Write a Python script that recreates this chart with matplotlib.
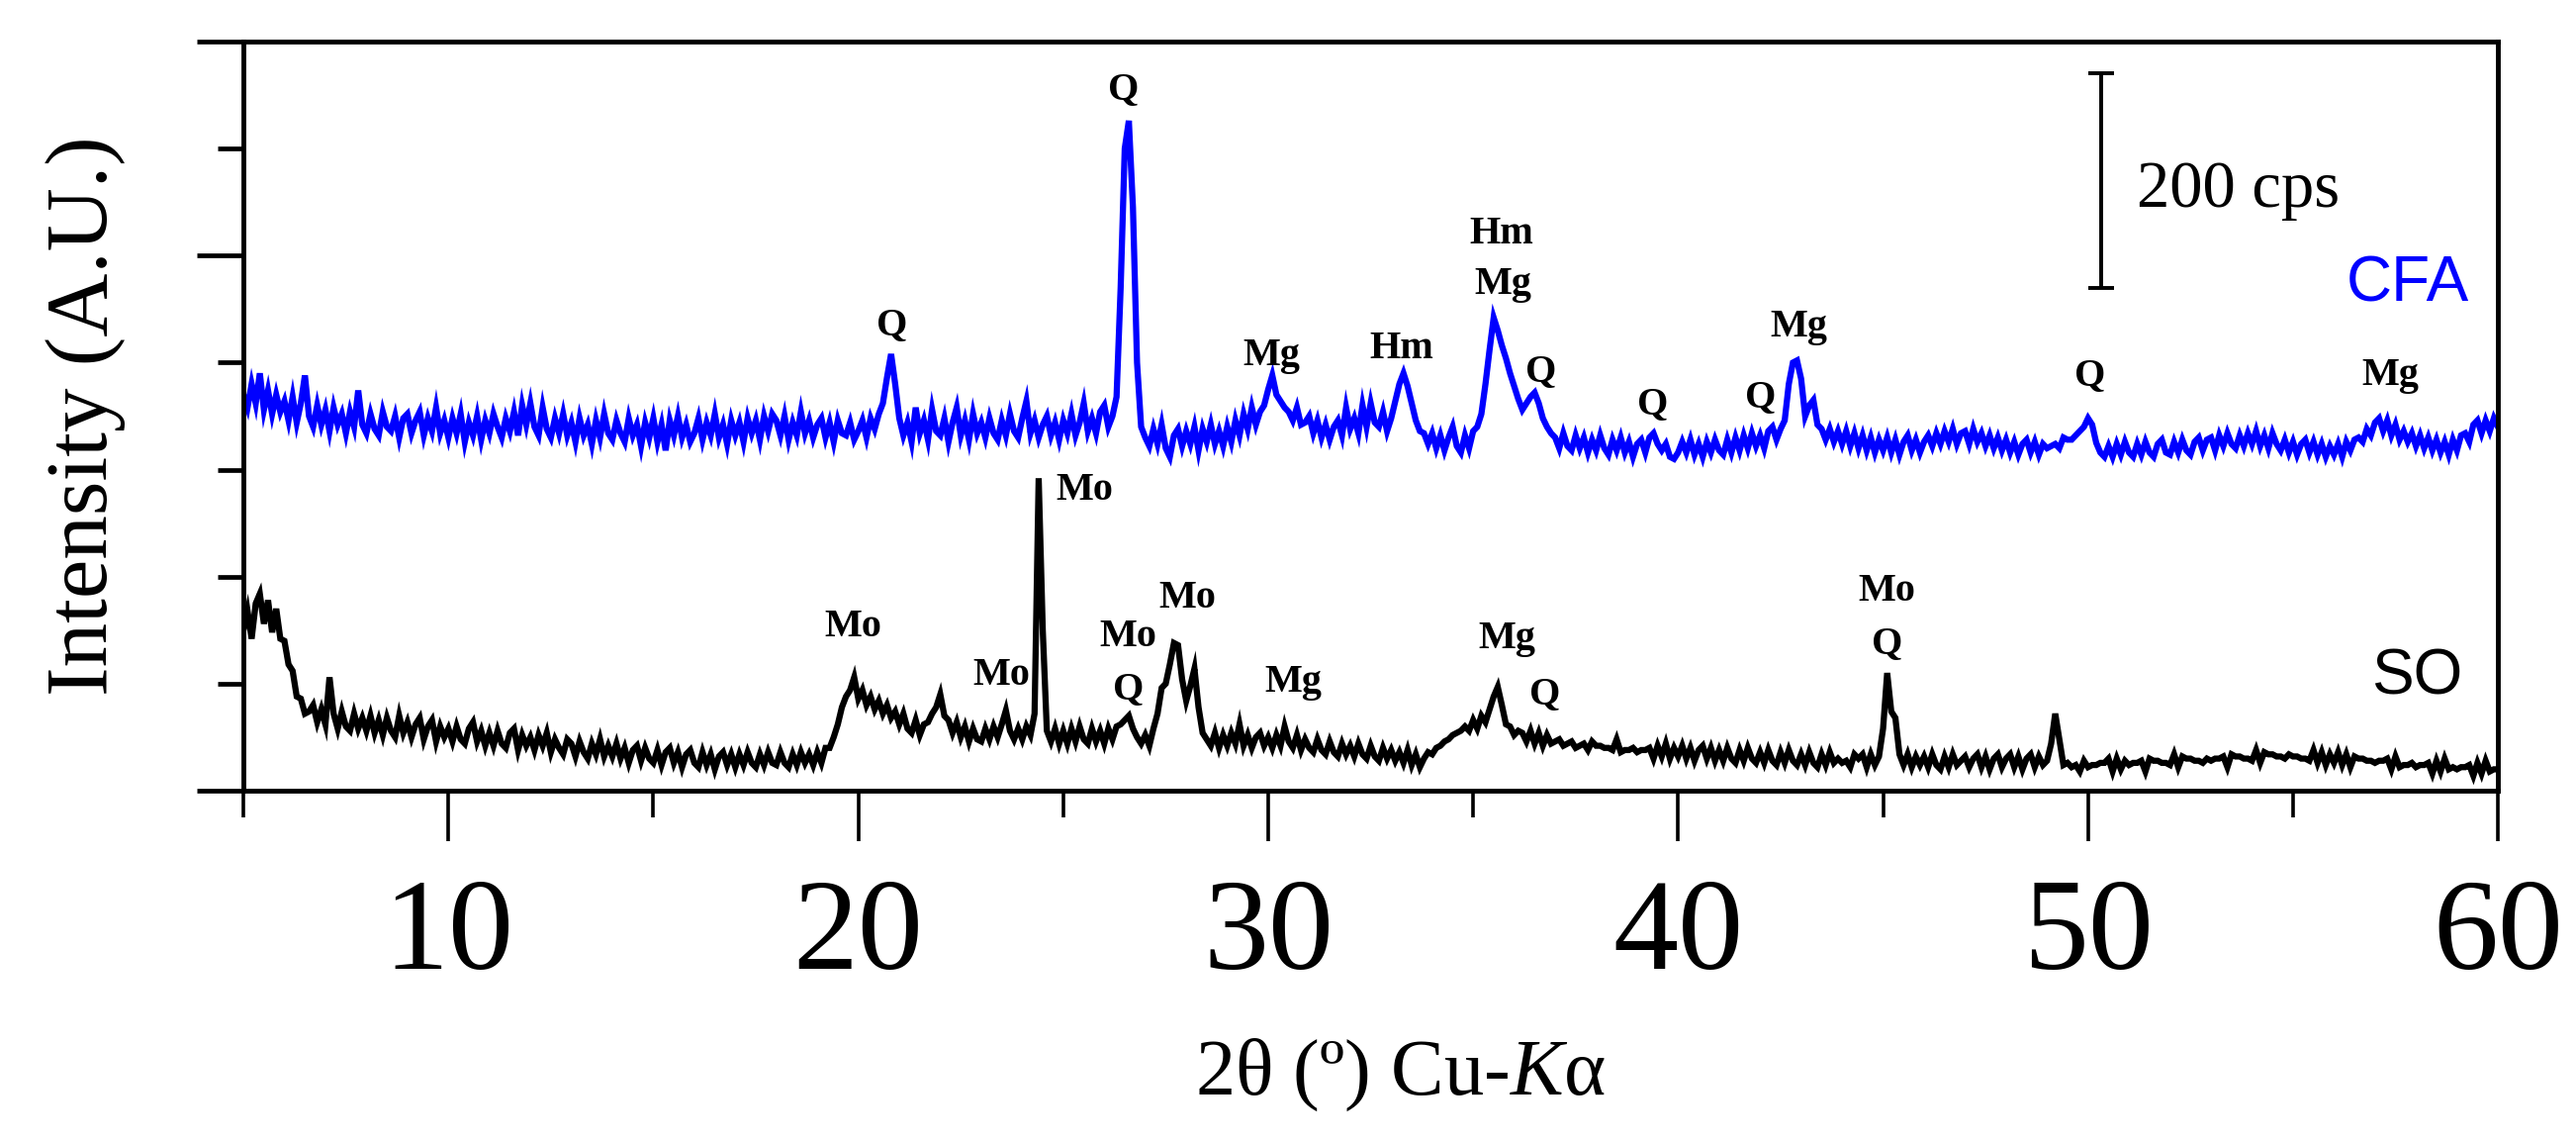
import numpy as np
import matplotlib
matplotlib.use("Agg")
import matplotlib.pyplot as plt
from matplotlib.ticker import FixedLocator, NullFormatter

plt.rcParams['font.family'] = ['Liberation Serif', 'DejaVu Serif']
plt.rcParams['mathtext.fontset'] = 'custom'
plt.rcParams['mathtext.rm'] = 'Liberation Serif'
plt.rcParams['mathtext.it'] = 'Liberation Serif:italic'

# 2theta grid, 5.0 .. 60.0 deg, step 0.1
two_theta = np.round(np.arange(5.0, 60.05, 0.1), 1)

# CFA pattern (offset, cps), one row per degree
cfa = [
    370, 358, 380, 362, 390, 356, 374, 352, 370, 354,   # 5
    364, 346, 368, 344, 362, 388, 350, 340, 360, 342,   # 6
    356, 336, 358, 342, 352, 334, 354, 340, 374, 342,   # 7
    334, 352, 338, 332, 354, 340, 336, 350, 330, 348,   # 8
    352, 334, 346, 354, 332, 348, 336, 358, 334, 346,   # 9
    330, 348, 334, 352, 326, 344, 332, 350, 328, 346,   # 10
    334, 352, 340, 330, 348, 336, 354, 332, 360, 342,   # 11
    362, 340, 332, 358, 338, 330, 348, 334, 352, 332,   # 12
    344, 326, 348, 332, 342, 324, 346, 330, 352, 334,   # 13
    328, 346, 334, 326, 348, 332, 342, 322, 344, 330,   # 14
    348, 326, 342, 318, 346, 332, 350, 330, 342, 326,   # 15
    334, 348, 328, 344, 332, 352, 330, 342, 324, 346,   # 16
    332, 344, 326, 348, 334, 346, 328, 350, 336, 352,   # 17
    346, 332, 350, 328, 344, 332, 354, 334, 346, 330,   # 18
    342, 348, 330, 344, 326, 346, 334, 332, 344, 328,   # 19
    336, 346, 330, 348, 338, 352, 362, 386, 408, 380,   # 20
    348, 332, 344, 326, 358, 334, 346, 328, 356, 336,   # 21
    332, 348, 326, 344, 358, 332, 346, 328, 352, 334,   # 22
    344, 330, 348, 334, 328, 346, 332, 352, 336, 330,   # 23
    348, 364, 334, 346, 330, 342, 350, 332, 344, 328,   # 24
    346, 334, 352, 332, 344, 362, 336, 348, 334, 354,   # 25
    360, 340, 350, 368, 470, 600, 626, 545, 400, 340,   # 26
    330, 322, 338, 324, 342, 320, 312, 332, 338, 322,   # 27
    336, 324, 340, 318, 338, 326, 342, 324, 336, 322,   # 28
    340, 326, 346, 332, 352, 338, 358, 342, 354, 360,   # 29
    375, 388, 370, 364, 358, 354, 346, 358, 342, 344,   # 30
    350, 334, 346, 330, 342, 328, 340, 346, 332, 358,   # 31
    338, 348, 334, 360, 340, 362, 344, 340, 354, 336,   # 32
    348, 364, 380, 390, 378, 362, 346, 336, 334, 324,   # 33
    334, 320, 332, 318, 330, 340, 322, 316, 332, 320,   # 34
    336, 340, 352, 380, 412, 442, 430, 416, 404, 390,   # 35
    378, 366, 356, 362, 368, 372, 362, 348, 340, 334,   # 36
    330, 320, 334, 322, 318, 332, 320, 330, 316, 328,   # 37
    318, 332, 320, 314, 328, 318, 330, 316, 326, 312,   # 38
    324, 328, 316, 330, 334, 324, 318, 324, 312, 310,   # 39
    316, 326, 316, 328, 314, 324, 312, 326, 316, 328,   # 40
    318, 314, 328, 316, 330, 318, 332, 320, 334, 322,   # 41
    332, 320, 336, 340, 328, 338, 346, 380, 400, 402,   # 42
    385, 350, 360, 365, 342, 338, 328, 338, 326, 336,   # 43
    324, 336, 322, 334, 320, 332, 318, 330, 316, 328,   # 44
    318, 330, 316, 328, 314, 326, 332, 318, 328, 316,   # 45
    326, 332, 322, 334, 324, 336, 326, 338, 324, 334,   # 46
    336, 324, 338, 326, 334, 322, 332, 320, 330, 318,   # 47
    328, 316, 326, 314, 324, 328, 316, 326, 314, 324,   # 48
    320, 322, 324, 320, 330, 328, 328, 332, 336, 340,   # 49
    348, 342, 325, 316, 312, 322, 312, 324, 314, 326,   # 50
    316, 312, 324, 314, 326, 316, 312, 324, 328, 316,   # 51
    314, 326, 316, 328, 318, 314, 326, 330, 318, 328,   # 52
    330, 318, 332, 322, 334, 324, 320, 332, 322, 334,   # 53
    324, 336, 322, 332, 320, 334, 324, 318, 328, 316,   # 54
    326, 314, 324, 328, 316, 326, 314, 324, 312, 322,   # 55
    314, 324, 312, 326, 318, 328, 330, 326, 338, 332,   # 56
    344, 348, 336, 346, 332, 342, 328, 336, 326, 334,   # 57
    322, 332, 320, 330, 318, 328, 316, 326, 314, 328,   # 58
    318, 332, 334, 326, 342, 346, 334, 346, 336, 348,   # 59
    340,                                                # 60
]

# SO pattern (cps)
so = [
    150, 168, 142, 175, 184, 156, 178, 148, 170, 142,   # 5
    140, 118, 112, 88, 86, 72, 74, 80, 64, 76,          # 6
    62, 106, 72, 58, 74, 60, 56, 72, 58, 68,            # 7
    56, 70, 54, 66, 52, 68, 56, 50, 70, 54,             # 8
    64, 50, 62, 68, 48, 60, 66, 46, 60, 50,             # 9
    58, 46, 60, 48, 44, 58, 64, 46, 56, 42,             # 10
    54, 42, 56, 44, 40, 54, 58, 38, 52, 42,             # 11
    50, 38, 52, 42, 54, 36, 48, 40, 34, 48,             # 12
    44, 32, 46, 36, 30, 44, 34, 48, 32, 42,             # 13
    32, 44, 30, 40, 26, 38, 42, 28, 40, 30,             # 14
    26, 38, 24, 36, 40, 26, 36, 22, 34, 38,             # 15
    26, 22, 36, 24, 34, 20, 32, 36, 24, 34,             # 16
    22, 34, 24, 36, 26, 22, 34, 24, 36, 26,             # 17
    24, 36, 26, 22, 34, 24, 36, 26, 34, 24,             # 18
    36, 26, 40, 40, 50, 62, 78, 88, 94, 106,            # 19
    86, 94, 80, 88, 76, 84, 72, 80, 68, 74,             # 20
    62, 72, 58, 54, 66, 52, 62, 64, 72, 78,             # 21
    90, 70, 66, 54, 64, 50, 60, 46, 58, 48,             # 22
    46, 58, 48, 60, 50, 62, 75, 56, 48, 58,             # 23
    48, 60, 52, 72, 292, 150, 56, 46, 58, 44,           # 24
    56, 44, 58, 46, 60, 48, 44, 58, 46, 56,             # 25
    44, 58, 48, 60, 62, 66, 70, 58, 50, 44,             # 26
    52, 42, 58, 72, 96, 100, 118, 138, 136, 104,        # 27
    84, 98, 114, 78, 54, 48, 42, 54, 40, 52,            # 28
    42, 54, 44, 62, 42, 52, 40, 50, 54, 42,             # 29
    50, 40, 52, 42, 60, 46, 40, 52, 38, 48,             # 30
    40, 36, 48, 38, 34, 46, 36, 32, 44, 34,             # 31
    42, 32, 44, 34, 30, 42, 32, 28, 40, 30,             # 32
    38, 28, 36, 26, 38, 24, 34, 22, 30, 36,             # 33
    34, 40, 42, 46, 48, 52, 54, 56, 60, 56,             # 34
    66, 58, 70, 64, 76, 88, 97, 80, 62, 60,             # 35
    52, 56, 54, 46, 56, 44, 54, 42, 52, 44,             # 36
    46, 48, 42, 44, 46, 40, 42, 44, 38, 46,             # 37
    42, 42, 40, 40, 38, 48, 36, 38, 38, 40,             # 38
    36, 38, 38, 40, 30, 42, 32, 44, 30, 40,             # 39
    32, 42, 30, 40, 28, 38, 42, 30, 40, 28,             # 40
    38, 28, 40, 30, 26, 38, 28, 40, 30, 26,             # 41
    36, 26, 38, 28, 24, 36, 26, 38, 28, 24,             # 42
    34, 24, 36, 26, 22, 34, 24, 36, 26, 30,             # 43
    26, 28, 22, 34, 30, 34, 22, 34, 24, 32,             # 44
    58, 110, 74, 68, 34, 24, 34, 22, 32, 24,            # 45
    32, 22, 34, 24, 20, 32, 22, 34, 24, 28,             # 46
    32, 22, 30, 34, 22, 32, 20, 30, 34, 22,             # 47
    30, 34, 22, 32, 20, 30, 34, 22, 32, 24,             # 48
    28, 44, 72, 48, 24, 26, 22, 24, 18, 28,             # 49
    22, 24, 24, 26, 26, 30, 18, 30, 20, 28,             # 50
    24, 26, 26, 28, 18, 30, 28, 28, 26, 26,             # 51
    24, 34, 22, 32, 30, 30, 28, 28, 26, 30,             # 52
    28, 30, 30, 32, 22, 34, 32, 32, 30, 30,             # 53
    28, 38, 26, 36, 34, 34, 32, 32, 30, 34,             # 54
    32, 32, 30, 30, 28, 38, 26, 36, 24, 34,             # 55
    26, 36, 24, 34, 22, 32, 30, 30, 28, 28,             # 56
    26, 28, 28, 30, 20, 32, 22, 24, 24, 26,             # 57
    22, 24, 24, 26, 16, 28, 18, 30, 20, 22,             # 58
    20, 22, 22, 24, 14, 26, 16, 28, 18, 20,             # 59
    20,                                                 # 60
]

# phase labels: (text, 2theta, intensity)
cfa_labels = ["Q", "Q", "Mg", "Hm", "Hm", "Mg", "Q", "Q", "Q", "Mg", "Q", "Mg"]
cfa_label_x = [20.82, 26.47, 30.07, 33.26, 35.69, 35.73, 36.65, 39.39, 42.0, 42.94, 50.05, 57.38]
cfa_label_y = [435, 655, 406, 413, 520, 473, 392, 361, 368, 433, 388, 388]

so_labels = ["Mo", "Mo", "Mo", "Mo", "Q", "Mo", "Mg", "Mg", "Q", "Mo", "Q"]
so_label_x = [19.87, 23.5, 25.53, 26.59, 26.59, 28.03, 30.6, 35.83, 36.76, 45.1, 45.1]
so_label_y = [153, 108, 281, 144, 95, 180, 101, 142, 90, 186, 137]

# scale bar
bar_x = 50.31
bar_mid = 570
bar_half = 100

fig = plt.figure(figsize=(26.04, 11.53), dpi=100)
ax = fig.add_axes([0.0945, 0.307, 0.8752, 0.6566])

ax.plot(two_theta, cfa, color='#0000ff', lw=4.5, solid_joinstyle='miter')
ax.plot(two_theta, so, color='black', lw=4.5, solid_joinstyle='miter')

for t, x, y in zip(cfa_labels, cfa_label_x, cfa_label_y):
    ax.text(x, y, t, ha='center', va='center', fontsize=29, fontweight='bold')
for t, x, y in zip(so_labels, so_label_x, so_label_y):
    ax.text(x, y, t, ha='center', va='center', fontsize=29, fontweight='bold')

ax.errorbar([bar_x], [bar_mid], yerr=[bar_half], fmt='none', ecolor='black',
            elinewidth=2.8, capsize=9.5, capthick=2.8)
ax.text(51.19, 546, "200 cps", ha='left', va='baseline', fontsize=48)

ax.text(57.8, 473, "CFA", ha='center', va='center', fontsize=46, color='#0000ff',
        family=['Liberation Sans Narrow', 'Liberation Sans', 'DejaVu Sans'])
ax.text(58.03, 106, "SO", ha='center', va='center', fontsize=46, color='black',
        family=['Liberation Sans Narrow', 'Liberation Sans', 'DejaVu Sans'])

ax.set_xlim(5, 60)
ax.set_ylim(0, 700)

# x ticks
ax.xaxis.set_major_locator(FixedLocator([10, 20, 30, 40, 50, 60]))
ax.xaxis.set_minor_locator(FixedLocator([5, 15, 25, 35, 45, 55]))
ax.tick_params(axis='x', which='major', direction='out', length=37, width=2.6,
               labelsize=95, pad=27)
ax.tick_params(axis='x', which='minor', direction='out', length=19.5, width=2.6)

# y ticks (no labels)
ax.yaxis.set_major_locator(FixedLocator([0, 500, 700]))
ax.yaxis.set_minor_locator(FixedLocator([100, 200, 300, 400, 600]))
ax.yaxis.set_major_formatter(NullFormatter())
ax.tick_params(axis='y', which='major', direction='out', length=34, width=3.4)
ax.tick_params(axis='y', which='minor', direction='out', length=19, width=3.4)

for s in ax.spines.values():
    s.set_linewidth(3.5)

ax.set_xlabel(r"2θ (º) Cu-$\mathit{K}$α", fontsize=58, va='center')
ax.xaxis.set_label_coords(0.513, -0.38)
ax.set_ylabel("Intensity (A.U.)", fontsize=64, va='center')
ax.yaxis.set_label_coords(-0.07, 0.5)

fig.savefig("out.png", dpi=100)
